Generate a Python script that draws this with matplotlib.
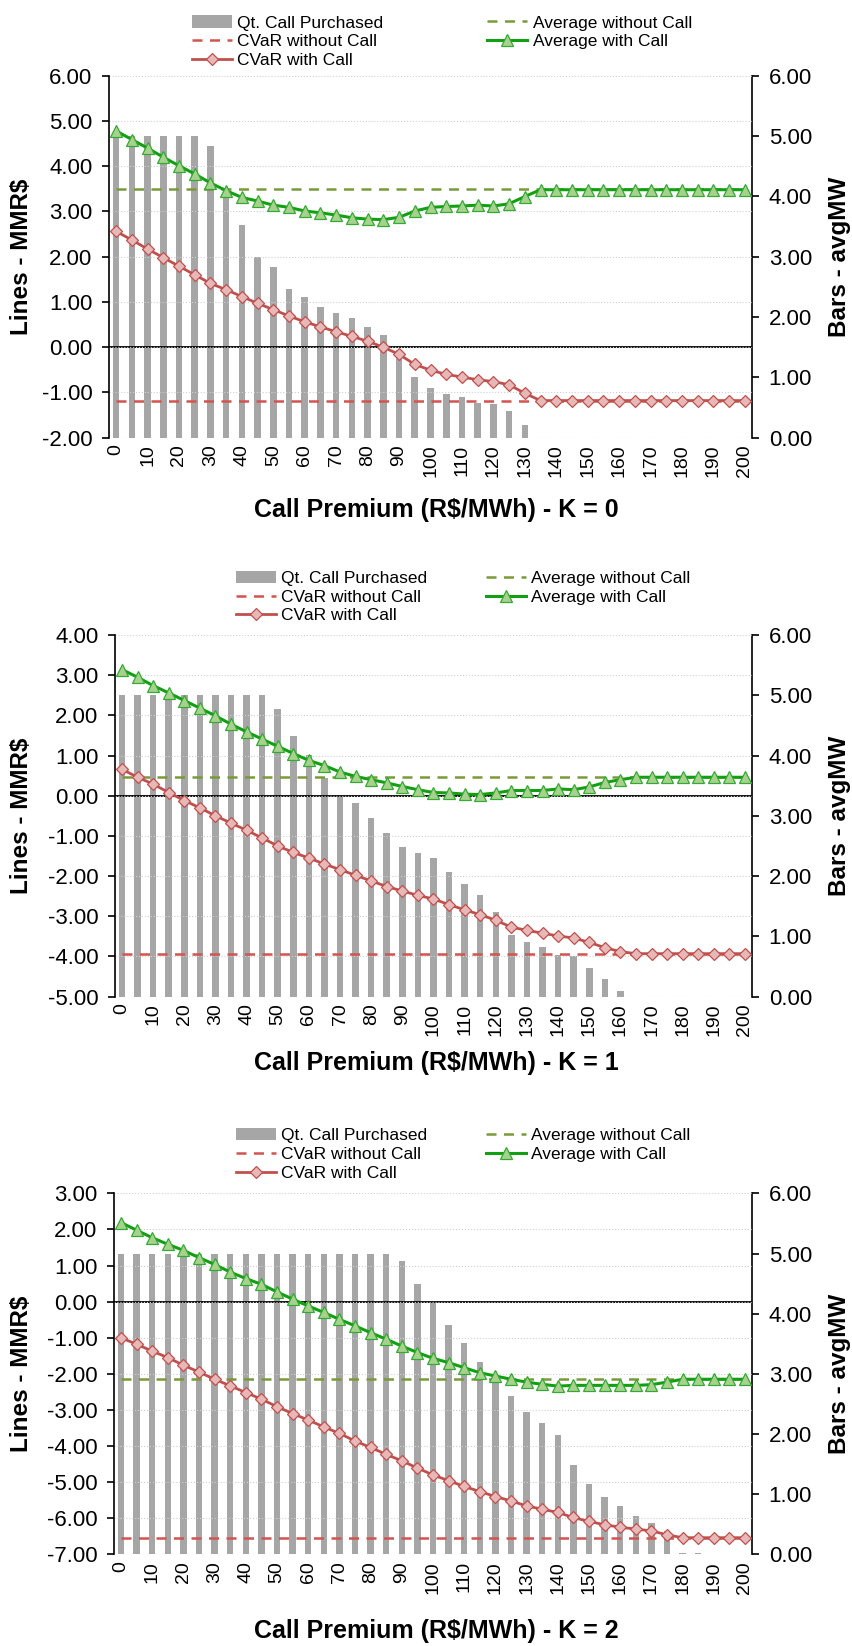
import numpy as np
import matplotlib
matplotlib.use('Agg')
import matplotlib.pyplot as plt
from matplotlib.patches import Patch
from matplotlib.lines import Line2D
from matplotlib.ticker import FormatStrFormatter

plt.rcParams['font.family'] = ['Liberation Sans', 'DejaVu Sans']
plt.rcParams['axes.unicode_minus'] = False

# call premium categories (R$/MWh)
premium = np.arange(0, 205, 5)

# K = 0
qty_k0 = [5.00, 5.00, 5.00, 5.00, 5.00, 5.00, 4.84, 4.05, 3.52, 3.00, 2.83, 2.46, 2.33, 2.16,
          2.06, 1.99, 1.84, 1.70, 1.45, 1.01, 0.82, 0.73, 0.67, 0.57, 0.55, 0.45, 0.21,
          0, 0, 0, 0, 0, 0, 0, 0, 0, 0, 0, 0, 0, 0]
avg_k0 = [4.78, 4.59, 4.40, 4.20, 4.01, 3.83, 3.63, 3.46, 3.31, 3.23, 3.14, 3.09, 3.01, 2.97,
          2.92, 2.86, 2.83, 2.82, 2.87, 3.01, 3.09, 3.11, 3.12, 3.14, 3.12, 3.17, 3.33,
          3.48, 3.48, 3.48, 3.48, 3.48, 3.48, 3.48, 3.48, 3.48, 3.48, 3.48, 3.48, 3.48, 3.48]
cvar_k0 = [2.56, 2.37, 2.17, 1.98, 1.79, 1.60, 1.41, 1.27, 1.12, 0.97, 0.83, 0.69, 0.56, 0.45,
           0.34, 0.24, 0.13, 0.00, -0.16, -0.38, -0.51, -0.60, -0.66, -0.72, -0.76, -0.83, -1.02,
           -1.18, -1.18, -1.18, -1.18, -1.18, -1.18, -1.18, -1.18, -1.18, -1.18, -1.18, -1.18,
           -1.18, -1.18]
avg_wo_k0 = 3.50
cvar_wo_k0 = -1.18

# K = 1
qty_k1 = [5.00, 5.00, 5.00, 5.00, 5.00, 5.00, 5.00, 5.00, 5.00, 5.00, 4.77, 4.32, 4.01, 3.62,
          3.33, 3.22, 2.96, 2.71, 2.48, 2.38, 2.30, 2.06, 1.87, 1.68, 1.40, 1.02, 0.90, 0.83,
          0.69, 0.67, 0.48, 0.29, 0.10, 0, 0, 0, 0, 0, 0, 0, 0]
avg_k1 = [3.14, 2.95, 2.74, 2.56, 2.37, 2.18, 1.99, 1.78, 1.59, 1.41, 1.23, 1.05, 0.88, 0.75,
          0.59, 0.48, 0.40, 0.32, 0.23, 0.15, 0.08, 0.07, 0.04, 0.03, 0.07, 0.13, 0.13, 0.13,
          0.17, 0.15, 0.22, 0.33, 0.40, 0.46, 0.46, 0.46, 0.46, 0.46, 0.46, 0.46, 0.46]
cvar_k1 = [0.66, 0.46, 0.29, 0.08, -0.12, -0.30, -0.50, -0.68, -0.86, -1.05, -1.25, -1.41,
           -1.55, -1.70, -1.84, -1.98, -2.12, -2.26, -2.37, -2.48, -2.57, -2.71, -2.84, -2.96,
           -3.10, -3.27, -3.35, -3.42, -3.49, -3.54, -3.65, -3.78, -3.88, -3.93, -3.93, -3.93,
           -3.93, -3.93, -3.93, -3.93, -3.93]
avg_wo_k1 = 0.46
cvar_wo_k1 = -3.93

# K = 2
qty_k2 = [5.00, 5.00, 5.00, 5.00, 5.00, 5.00, 5.00, 5.00, 5.00, 5.00, 5.00, 5.00, 5.00, 5.00,
          5.00, 5.00, 5.00, 5.00, 4.87, 4.49, 4.19, 3.81, 3.52, 3.20, 2.90, 2.63, 2.36, 2.18,
          1.98, 1.48, 1.17, 0.95, 0.80, 0.63, 0.52, 0.38, 0.03, 0.015, 0, 0, 0]
avg_k2 = [2.19, 1.98, 1.77, 1.59, 1.42, 1.22, 1.03, 0.82, 0.64, 0.48, 0.27, 0.07, -0.12,
          -0.30, -0.49, -0.67, -0.86, -1.04, -1.23, -1.41, -1.57, -1.69, -1.83, -1.97, -2.06,
          -2.15, -2.23, -2.29, -2.34, -2.32, -2.32, -2.32, -2.32, -2.32, -2.30, -2.23, -2.15,
          -2.15, -2.15, -2.15, -2.15]
cvar_k2 = [-1.00, -1.18, -1.37, -1.55, -1.76, -1.95, -2.15, -2.33, -2.52, -2.70, -2.91, -3.10,
           -3.28, -3.47, -3.65, -3.86, -4.04, -4.23, -4.41, -4.61, -4.80, -4.96, -5.12, -5.26,
           -5.40, -5.52, -5.66, -5.75, -5.84, -5.98, -6.09, -6.18, -6.25, -6.30, -6.35, -6.46,
           -6.54, -6.54, -6.54, -6.54, -6.54]
avg_wo_k2 = -2.15
cvar_wo_k2 = -6.54

labels = ['Qt. Call Purchased', 'CVaR without Call', 'CVaR with Call',
          'Average without Call', 'Average with Call']

BAR_C = '#A6A6A6'
RED = '#C0504D'
RED_DASH = '#D25450'
GREEN = '#12A012'
OLIVE = '#7A9A3A'

panels = [
    dict(k=0, qty=qty_k0, avg=avg_k0, cvar=cvar_k0, avg_wo=avg_wo_k0, cvar_wo=cvar_wo_k0,
         ylim=(-2, 6), rect=[0.1278, 0.7341, 0.7538, 0.2199], leg=(0.129, 1.022),
         colsp=6.0, xlab_y=510),
    dict(k=1, qty=qty_k1, avg=avg_k1, cvar=cvar_k1, avg_wo=avg_wo_k1, cvar_wo=cvar_wo_k1,
         ylim=(-5, 4), rect=[0.1348, 0.3945, 0.7468, 0.2197], leg=(0.19, 1.032),
         colsp=3.4, xlab_y=1063),
    dict(k=2, qty=qty_k2, avg=avg_k2, cvar=cvar_k2, avg_wo=avg_wo_k2, cvar_wo=cvar_wo_k2,
         ylim=(-7, 3), rect=[0.1336, 0.0557, 0.748, 0.2193], leg=(0.191, 1.035),
         colsp=3.4, xlab_y=1631),
]

W, H = 853, 1646
fig = plt.figure(figsize=(W / 100, H / 100), dpi=100)

idx = np.arange(len(premium))
for p in panels:
    ax = fig.add_axes(p['rect'])
    ax2 = ax.twinx()
    ax.set_zorder(ax2.get_zorder() + 1)
    ax.patch.set_visible(False)

    ax2.bar(idx, p['qty'], width=0.42, color=BAR_C, zorder=1)
    ax.plot(idx, np.full(len(idx), p['cvar_wo']), color=RED_DASH, ls=(0, (4, 3)), lw=1.8)
    ax.plot(idx, np.full(len(idx), p['avg_wo']), color=OLIVE, ls=(0, (4, 3)), lw=1.8)
    ax.axhline(0, color='black', lw=1.3, zorder=1.5)
    ax.plot(idx, p['cvar'], color=RED, lw=2, marker='D', ms=6.5,
            mfc='#E6B8B7', mec=RED, mew=0.9)
    ax.plot(idx, p['avg'], color=GREEN, lw=2.2, marker='^', ms=9,
            mfc='#A9D18E', mec='#33AA33', mew=0.9)

    lo, hi = p['ylim']
    ax.set_xlim(-0.45, len(idx) - 0.55)
    ax.set_ylim(lo, hi)
    ax2.set_ylim(0, 6)
    ax.set_yticks(np.arange(lo, hi + 1))
    ax2.set_yticks(np.arange(0, 7))
    ax.yaxis.set_major_formatter(FormatStrFormatter('%.2f'))
    ax2.yaxis.set_major_formatter(FormatStrFormatter('%.2f'))
    ax.grid(axis='y', color='#D0D0D0', ls=':', lw=0.8)

    ax.set_xticks(idx[::2])
    ax.set_xticklabels([str(v) for v in premium[::2]], rotation=90)
    ax.tick_params(axis='x', length=0, labelsize=14, pad=5)
    ax.tick_params(axis='y', labelsize=16, length=5, width=1.2, direction='out', pad=7)
    ax2.tick_params(axis='y', labelsize=16, length=5, width=1.2, direction='out', pad=7)

    for s in ['top', 'bottom', 'right']:
        ax.spines[s].set_visible(False)
        ax2.spines[s if s != 'right' else 'left'].set_visible(False)
    ax.spines['left'].set_linewidth(1.2)
    ax2.spines['right'].set_linewidth(1.2)

    handles = [
        Patch(facecolor=BAR_C, edgecolor='none'),
        Line2D([], [], color=RED_DASH, ls=(0, (4, 3)), lw=1.8),
        Line2D([], [], color=RED, lw=2, marker='D', ms=6.5, mfc='#E6B8B7', mec=RED, mew=0.9),
        Line2D([], [], color=OLIVE, ls=(0, (4, 3)), lw=1.8),
        Line2D([], [], color=GREEN, lw=2.2, marker='^', ms=9, mfc='#A9D18E', mec='#33AA33', mew=0.9),
    ]
    ax.legend(handles, labels, ncol=2, loc='lower left', bbox_to_anchor=p['leg'],
              frameon=False, fontsize=12.5, handlelength=2.3, handletextpad=0.3,
              columnspacing=p['colsp'], labelspacing=0.2, borderpad=0, borderaxespad=0)

    b = p['rect']
    yc = b[1] + b[3] / 2
    fig.text(22 / W, yc, 'Lines - MMR$', rotation=90, ha='center', va='center',
             fontsize=17.5, fontweight='bold')
    fig.text(840 / W, yc, 'Bars - avgMW', rotation=90, ha='center', va='center',
             fontsize=17.5, fontweight='bold')
    fig.text(436 / W, 1 - p['xlab_y'] / H, 'Call Premium (R$/MWh) - K = %d' % p['k'],
             ha='center', va='center', fontsize=18, fontweight='bold')

fig.savefig('out.png', dpi=100)
